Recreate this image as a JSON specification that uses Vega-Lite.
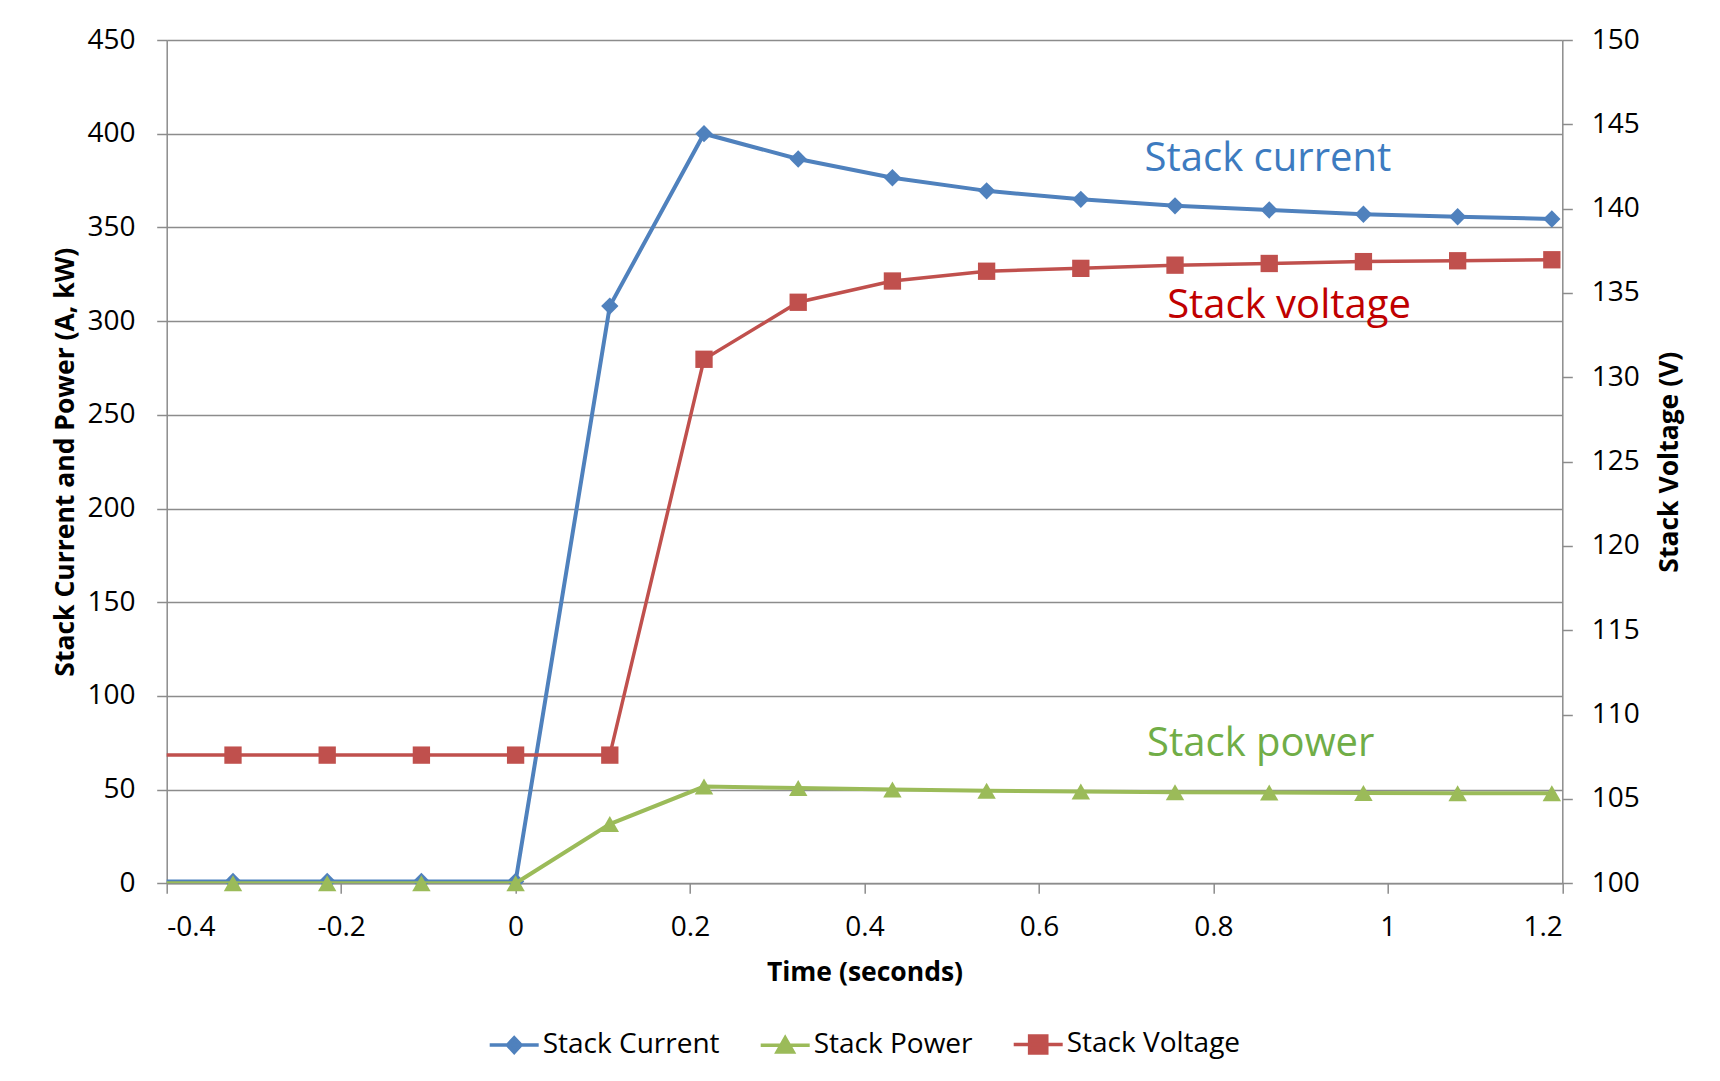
{
  "$schema": "https://vega.github.io/schema/vega-lite/v6.json",
  "width": 1395.6,
  "height": 843.3,
  "autosize": "none",
  "padding": {"left": 166.7, "top": 40, "right": 157.7, "bottom": 197.7},
  "background": "white",
  "config": {
    "font": "Open Sans",
    "view": {"stroke": null},
    "axis": {
      "labelFont": "Open Sans", "labelFontSize": 28, "labelColor": "#000000",
      "titleFont": "Open Sans", "titleFontSize": 26.5, "titleFontWeight": "bold", "titleColor": "#000000",
      "domainColor": "#8C8C8C", "domainWidth": 1.5, "tickColor": "#8C8C8C", "tickWidth": 1.5, "tickSize": 10,
      "gridColor": "#8C8C8C", "gridWidth": 1.5
    }
  },
  "datasets": {
    "series": [
      {"t": -0.432, "series": "Stack Current", "value": 1},
      {"t": -0.324, "series": "Stack Current", "value": 1},
      {"t": -0.216, "series": "Stack Current", "value": 1},
      {"t": -0.108, "series": "Stack Current", "value": 1},
      {"t": 0, "series": "Stack Current", "value": 1},
      {"t": 0.108, "series": "Stack Current", "value": 308},
      {"t": 0.216, "series": "Stack Current", "value": 400},
      {"t": 0.324, "series": "Stack Current", "value": 386.5},
      {"t": 0.432, "series": "Stack Current", "value": 376.5},
      {"t": 0.54, "series": "Stack Current", "value": 369.5},
      {"t": 0.648, "series": "Stack Current", "value": 365},
      {"t": 0.756, "series": "Stack Current", "value": 361.5},
      {"t": 0.864, "series": "Stack Current", "value": 359.3},
      {"t": 0.972, "series": "Stack Current", "value": 357},
      {"t": 1.08, "series": "Stack Current", "value": 355.7},
      {"t": 1.188, "series": "Stack Current", "value": 354.5},
      {"t": -0.432, "series": "Stack Power", "value": 0},
      {"t": -0.324, "series": "Stack Power", "value": 0},
      {"t": -0.216, "series": "Stack Power", "value": 0},
      {"t": -0.108, "series": "Stack Power", "value": 0},
      {"t": 0, "series": "Stack Power", "value": 0},
      {"t": 0.108, "series": "Stack Power", "value": 31.6},
      {"t": 0.216, "series": "Stack Power", "value": 51.6},
      {"t": 0.324, "series": "Stack Power", "value": 50.8},
      {"t": 0.432, "series": "Stack Power", "value": 50.0},
      {"t": 0.54, "series": "Stack Power", "value": 49.4},
      {"t": 0.648, "series": "Stack Power", "value": 49.0},
      {"t": 0.756, "series": "Stack Power", "value": 48.6},
      {"t": 0.864, "series": "Stack Power", "value": 48.4},
      {"t": 0.972, "series": "Stack Power", "value": 48.2},
      {"t": 1.08, "series": "Stack Power", "value": 48.1},
      {"t": 1.188, "series": "Stack Power", "value": 48.0},
      {"t": -0.432, "series": "Stack Voltage", "value": 107.6},
      {"t": -0.324, "series": "Stack Voltage", "value": 107.6},
      {"t": -0.216, "series": "Stack Voltage", "value": 107.6},
      {"t": -0.108, "series": "Stack Voltage", "value": 107.6},
      {"t": 0, "series": "Stack Voltage", "value": 107.6},
      {"t": 0.108, "series": "Stack Voltage", "value": 107.6},
      {"t": 0.216, "series": "Stack Voltage", "value": 131.07},
      {"t": 0.324, "series": "Stack Voltage", "value": 134.45},
      {"t": 0.432, "series": "Stack Voltage", "value": 135.71},
      {"t": 0.54, "series": "Stack Voltage", "value": 136.29},
      {"t": 0.648, "series": "Stack Voltage", "value": 136.46},
      {"t": 0.756, "series": "Stack Voltage", "value": 136.65},
      {"t": 0.864, "series": "Stack Voltage", "value": 136.75},
      {"t": 0.972, "series": "Stack Voltage", "value": 136.86},
      {"t": 1.08, "series": "Stack Voltage", "value": 136.91},
      {"t": 1.188, "series": "Stack Voltage", "value": 136.97}
    ],
    "notes": [
      {"t": 0.8625, "v": 380.3, "label": "Stack current"},
      {"t": 0.8867, "v": 301.5, "label": "Stack voltage"},
      {"t": 0.8543, "v": 67.9, "label": "Stack power"}
    ]
  },
  "encoding": {
    "x": {
      "field": "t", "type": "quantitative",
      "scale": {"domain": [-0.4, 1.2], "nice": false, "zero": false},
      "axis": {
        "title": "Time (seconds)",
        "values": [-0.4, -0.2, 0, 0.2, 0.4, 0.6, 0.8, 1, 1.2],
        "labelExpr": "datum.value < 0 ? '-' + format(-datum.value, '~g') : format(datum.value, '~g')",
        "grid": false,
        "labelBaseline": "alphabetic", "labelPadding": 41.7,
        "titleX": 697.8, "titleY": 96.7, "titleBaseline": "alphabetic", "titleAnchor": null
      }
    }
  },
  "layer": [
    {
      "encoding": {
        "y": {
          "field": "value", "type": "quantitative",
          "scale": {"domain": [0, 450], "nice": false},
          "axis": {
            "title": "Stack Current and Power (A, kW)",
            "values": [0, 50, 100, 150, 200, 250, 300, 350, 400, 450],
            "grid": true, "labelPadding": 21.7,
            "titleX": -100.8, "titleY": 421.65, "titleBaseline": "middle", "titleAngle": 270
          }
        }
      },
      "layer": [
        {
          "data": {"name": "series"},
          "transform": [{"filter": "datum.series === 'Stack Current'"}],
          "mark": {"type": "line", "strokeWidth": 4, "clip": true},
          "encoding": {
            "color": {
              "field": "series", "type": "nominal",
              "scale": {"domain": ["Stack Current", "Stack Power", "Stack Voltage"], "range": ["#4F81BD", "#9BBB59", "#C0504D"]},
              "legend": {
                "title": null, "orient": "none", "direction": "horizontal",
                "legendX": 321, "legendY": 977.5, "padding": 0,
                "symbolSize": 2400, "symbolStrokeWidth": 3.5,
                "labelFont": "Open Sans", "labelFontSize": 28, "labelColor": "#000000", "labelOffset": 2,
                "columnPadding": 34, "labelLimit": 400,
                "encode": {
                  "symbols": {
                    "update": {
                      "shape": {"signal": "datum.value === 'Stack Current' ? 'M-1,0L1,0M-0.28,0L0,-0.3L0.28,0L0,0.3Z' : datum.value === 'Stack Power' ? 'M-1,0L1,0M0,-0.3L0.33,0.28L-0.33,0.28Z' : 'M-1,0L1,0M-0.35,-0.35L0.35,-0.35L0.35,0.35L-0.35,0.35Z'"},
                      "fill": {"signal": "datum.value === 'Stack Current' ? '#4F81BD' : datum.value === 'Stack Power' ? '#9BBB59' : '#C0504D'"},
                      "stroke": {"signal": "datum.value === 'Stack Current' ? '#4F81BD' : datum.value === 'Stack Power' ? '#9BBB59' : '#C0504D'"},
                      "strokeWidth": {"value": 3.5},
                      "opacity": {"value": 1},
                      "fillOpacity": {"value": 1},
                      "strokeOpacity": {"value": 1}
                    }
                  }
                }
              }
            }
          }
        },
        {
          "data": {"name": "series"},
          "transform": [{"filter": "datum.series === 'Stack Current' && datum.t > -0.4"}],
          "mark": {"type": "point", "filled": true, "shape": "diamond", "size": 300, "opacity": 1},
          "encoding": {"color": {"field": "series", "type": "nominal"}}
        },
        {
          "data": {"name": "series"},
          "transform": [{"filter": "datum.series === 'Stack Power'"}],
          "mark": {"type": "line", "strokeWidth": 4, "clip": true},
          "encoding": {"color": {"field": "series", "type": "nominal"}}
        },
        {
          "data": {"name": "series"},
          "transform": [{"filter": "datum.series === 'Stack Power' && datum.t > -0.4"}],
          "mark": {"type": "point", "filled": true, "shape": "triangle-up", "size": 340, "opacity": 1},
          "encoding": {"color": {"field": "series", "type": "nominal"}}
        },
        {
          "data": {"name": "notes"},
          "transform": [{"filter": "datum.label === 'Stack current'"}],
          "mark": {"type": "text", "font": "Open Sans", "fontSize": 40, "align": "center", "baseline": "alphabetic", "color": "#3D7BC0"},
          "encoding": {"y": {"field": "v", "type": "quantitative"}, "text": {"field": "label"}}
        },
        {
          "data": {"name": "notes"},
          "transform": [{"filter": "datum.label === 'Stack voltage'"}],
          "mark": {"type": "text", "font": "Open Sans", "fontSize": 40, "align": "center", "baseline": "alphabetic", "color": "#C00000"},
          "encoding": {"y": {"field": "v", "type": "quantitative"}, "text": {"field": "label"}}
        },
        {
          "data": {"name": "notes"},
          "transform": [{"filter": "datum.label === 'Stack power'"}],
          "mark": {"type": "text", "font": "Open Sans", "fontSize": 40, "align": "center", "baseline": "alphabetic", "color": "#70AD47"},
          "encoding": {"y": {"field": "v", "type": "quantitative"}, "text": {"field": "label"}}
        }
      ]
    },
    {
      "data": {"name": "series"},
      "transform": [{"filter": "datum.series === 'Stack Voltage'"}],
      "encoding": {
        "y": {
          "field": "value", "type": "quantitative",
          "scale": {"domain": [100, 150], "nice": false, "zero": false},
          "axis": {
            "orient": "right",
            "title": "Stack Voltage (V)",
            "values": [100, 105, 110, 115, 120, 125, 130, 135, 140, 145, 150],
            "grid": false, "labelPadding": 19,
            "titleX": 107.2, "titleY": 421.65, "titleBaseline": "middle", "titleAngle": 270
          }
        },
        "color": {"field": "series", "type": "nominal"}
      },
      "layer": [
        {"mark": {"type": "line", "strokeWidth": 3.5, "clip": true}},
        {
          "transform": [{"filter": "datum.t > -0.4"}],
          "mark": {"type": "point", "filled": true, "shape": "square", "size": 300, "opacity": 1}
        }
      ]
    }
  ],
  "resolve": {"scale": {"y": "independent"}}
}
